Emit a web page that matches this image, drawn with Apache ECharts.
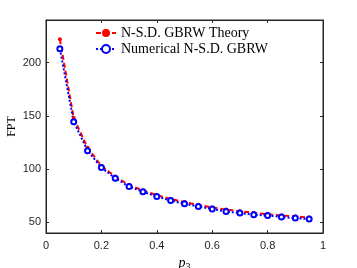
<!DOCTYPE html>
<html><head><meta charset="utf-8">
<script src="https://cdn.jsdelivr.net/npm/echarts@6/dist/echarts.min.js"></script>
<style>html,body{margin:0;padding:0;background:#fff;}#c{width:357px;height:268px;}</style>
</head><body><div id="c"></div>
<script>
var p3 = [0.05,0.10,0.15,0.20,0.25,0.30,0.35,0.40,0.45,0.50,0.55,0.60,0.65,0.70,0.75,0.80,0.85,0.90,0.95];
var theory = [222,148,120,103,93,85,80,75.5,72,69,66.5,64,62,60.5,59,57.5,56.5,55.5,54.5];
var numerical = [213,144.5,117.3,101.4,91.5,83.6,78.7,74.3,70.5,67.4,64.9,62.5,60.2,58.7,57.1,56.5,55,54,53.1];
var yTicks = [50,100,150,200];
var names = ['N-S.D. GBRW Theory','Numerical N-S.D. GBRW'];

function pairs(xs, ys){ return xs.map(function(x,i){return [x, ys[i]];}); }
var axisCol = '#262626';
var chart = echarts.init(document.getElementById('c'));
chart.setOption({
  animation:false,
  backgroundColor:'#fff',
  grid:{left:46, right:34, top:20, bottom:35, outerBoundsMode:'none', containLabel:false,
        show:true, borderColor:axisCol, borderWidth:1, backgroundColor:'transparent'},
  legend:{
    orient:'vertical', left:90, top:21, itemWidth:20, itemHeight:10, itemGap:2,
    textStyle:{fontFamily:'Liberation Serif', fontSize:14, color:'#000'},
    data:names
  },
  xAxis:[{
    type:'value', min:0, max:1, interval:0.2, position:'bottom',
    axisLine:{show:true, onZero:false, lineStyle:{color:axisCol,width:1}},
    axisTick:{show:true, inside:true, length:3, lineStyle:{color:axisCol}},
    axisLabel:{color:axisCol, fontFamily:'Liberation Sans', fontSize:11, margin:7},
    splitLine:{show:false},
    name:'{p|p}{s|3}', nameLocation:'middle', nameGap:22,
    nameTextStyle:{rich:{p:{fontFamily:'Liberation Serif', fontStyle:'italic', fontSize:14, color:'#000'}, s:{fontFamily:'Liberation Serif', fontSize:10, color:'#000', padding:[7,0,0,0]}}}
  },{
    type:'value', min:0, max:1, interval:0.2, position:'top',
    axisLine:{show:true, onZero:false, lineStyle:{color:axisCol,width:1}},
    axisTick:{show:true, inside:true, length:3, lineStyle:{color:axisCol}},
    axisLabel:{show:false}, splitLine:{show:false}
  }],
  yAxis:[{
    type:'value', min:40, max:240, position:'left',
    axisLine:{show:true, onZero:false, lineStyle:{color:axisCol,width:1}},
    axisTick:{show:true, inside:true, length:3, lineStyle:{color:axisCol}, customValues:yTicks},
    axisLabel:{color:axisCol, fontFamily:'Liberation Sans', fontSize:11, margin:5, customValues:yTicks},
    splitLine:{show:false},
    name:'FPT', nameLocation:'middle', nameGap:28, nameMoveOverlap:false,
    nameTextStyle:{fontFamily:'Liberation Serif', fontSize:12, color:'#000'}
  },{
    type:'value', min:40, max:240, position:'right',
    axisLine:{show:true, onZero:false, lineStyle:{color:axisCol,width:1}},
    axisTick:{show:true, inside:true, length:3, lineStyle:{color:axisCol}, customValues:yTicks},
    axisLabel:{show:false}, splitLine:{show:false}
  }],
  series:[{
    name:names[0], type:'line', xAxisIndex:0, yAxisIndex:0,
    data:pairs(p3, theory),
    symbol:'circle', symbolSize:4, showSymbol:true,
    lineStyle:{color:'#ff0000', width:2, type:[5,3]},
    itemStyle:{color:'#ff0000'}
  },{
    name:names[1], type:'line', xAxisIndex:0, yAxisIndex:0,
    data:pairs(p3, numerical),
    symbol:'emptyCircle', symbolSize:5, showSymbol:true,
    lineStyle:{color:'#0000ff', width:2, type:[2,2]},
    itemStyle:{color:'#0000ff', borderColor:'#0000ff', borderWidth:1.8}
  }]
});
</script></body></html>
